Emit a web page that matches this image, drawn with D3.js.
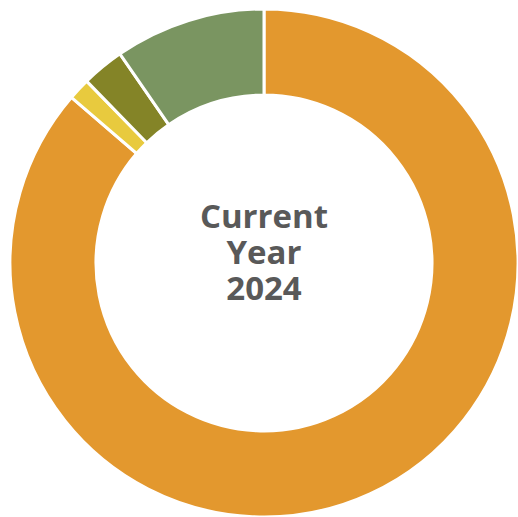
<!DOCTYPE html>
<html>
<head>
<meta charset="utf-8">
<script src="https://cdn.jsdelivr.net/npm/d3@7"></script>
<style>
  html, body { margin: 0; padding: 0; background: #fff; }
  svg { display: block; }
</style>
</head>
<body>
<svg id="chart" width="518" height="517"></svg>
<script>
// Share of the year's total, in slice order (clockwise from 12 o'clock)
const categories = ["A", "B", "C", "D"];
const values = [86.3, 1.4, 2.7, 9.6];
const colors = ["#E3982E", "#E8CA3E", "#848427", "#7A9561"];
const centerLines = ["Current", "Year", "2024"];

const svg = d3.select("#chart");
const cx = 264, cy = 263;
const outerR = 254, innerR = 168;

const pie = d3.pie().sort(null).value(d => d.value);
const arc = d3.arc().innerRadius(innerR).outerRadius(outerR);

const data = categories.map((c, i) => ({ name: c, value: values[i], color: colors[i] }));

const g = svg.append("g").attr("transform", `translate(${cx},${cy})`);

g.selectAll("path")
  .data(pie(data))
  .join("path")
  .attr("d", arc)
  .attr("fill", d => d.data.color)
  .attr("stroke", "#fff")
  .attr("stroke-width", 3)
  .attr("stroke-linejoin", "miter");

// Label in the hole, one text per line
g.selectAll("text.center")
  .data(centerLines)
  .join("text")
  .attr("class", "center")
  .attr("text-anchor", "middle")
  .attr("font-family", "'Open Sans', sans-serif")
  .attr("font-weight", 700)
  .attr("font-size", 33)
  .attr("fill", "#595959")
  .attr("x", 0)
  .attr("y", (d, i) => -35 + i * 36)
  .text(d => d);
</script>
</body>
</html>
